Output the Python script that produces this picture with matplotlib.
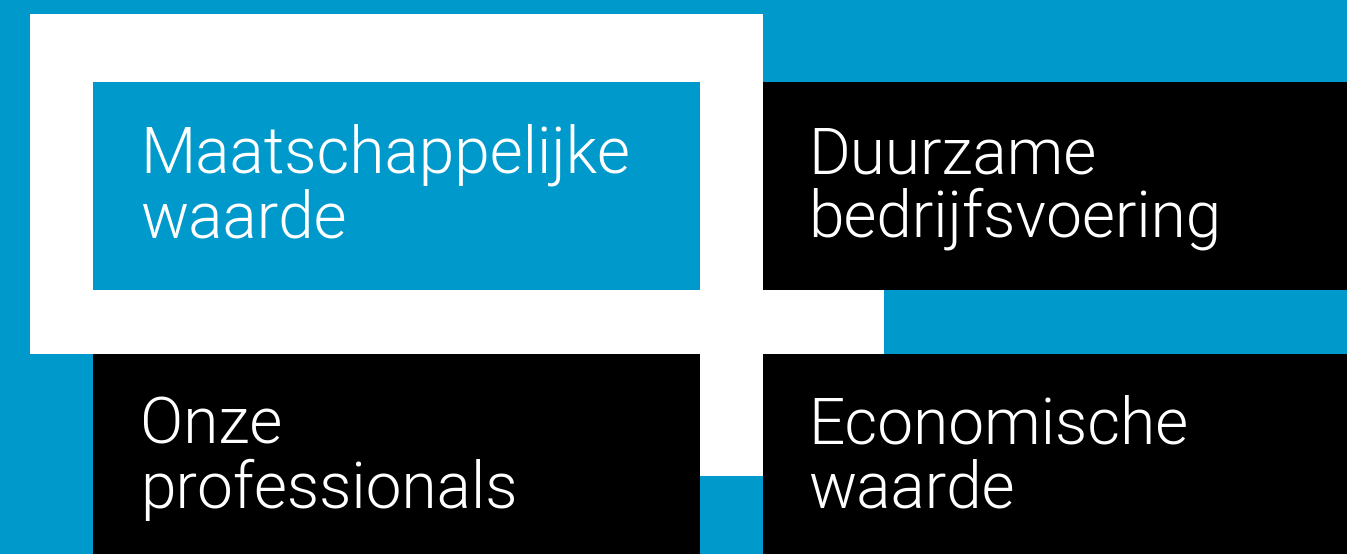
import matplotlib.pyplot as plt
from matplotlib.patches import Rectangle

W, H = 1347, 554
blauw = '#0099cc'
wit = '#ffffff'
zwart = '#000000'

# vlakken: (x, y, breedte, hoogte, kleur) in pixels, y van boven
vlakken = [
    (30, 14, 733, 340, wit),      # wit kader
    (763, 290, 121, 64, wit),     # witte strook rechts
    (700, 354, 63, 122, wit),     # witte strook omlaag
    (93, 82, 607, 208, blauw),    # Maatschappelijke waarde
    (763, 82, 584, 208, zwart),   # Duurzame bedrijfsvoering
    (93, 354, 607, 200, zwart),   # Onze professionals
    (763, 354, 584, 200, zwart),  # Economische waarde
]

teksten = [
    (140, 173, 'Maatschappelijke', 'waarde'),
    (808, 173, 'Duurzame', 'bedrijfsvoering'),
    (140, 444, 'Onze', 'professionals'),
    (808, 444, 'Economische', 'waarde'),
]
regelafstand = 64

fig = plt.figure(figsize=(W / 100, H / 100), dpi=100)
fig.patch.set_facecolor(blauw)
ax = fig.add_axes([0, 0, 1, 1])
ax.set_xlim(0, W)
ax.set_ylim(H, 0)
ax.axis('off')

for x, y, b, h, kleur in vlakken:
    ax.add_patch(Rectangle((x, y), b, h, facecolor=kleur, edgecolor='none'))

for x, y, regel1, regel2 in teksten:
    for i, t in enumerate([regel1, regel2]):
        ax.text(x, y + i * regelafstand, t, color='white', fontsize=46,
                family='Roboto', fontweight=300, va='baseline', ha='left')

plt.savefig('out.png', dpi=100, facecolor=blauw)
